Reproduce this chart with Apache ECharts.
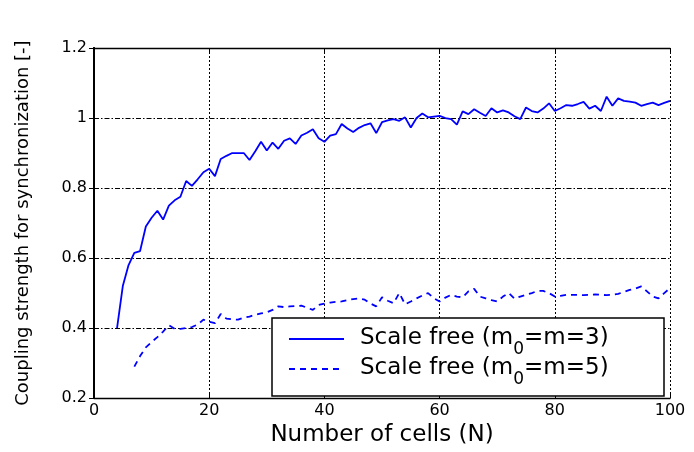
<!DOCTYPE html>
<html>
<head>
<meta charset="utf-8">
<script src="https://cdn.jsdelivr.net/npm/echarts@6/dist/echarts.min.js"></script>
<style>html,body{margin:0;padding:0;background:#fff;}#c{width:694px;height:452px;}</style>
</head>
<body>
<div id="c"></div>
<script>
// Scale free (m0=m=3): N starts at 4
const solidStartN = 4;
const solidValues = [
  0.40, 0.52, 0.58, 0.615, 0.62, 0.69, 0.715, 0.735, 0.71, 0.75,
  0.765, 0.775, 0.82, 0.806, 0.825, 0.845, 0.855, 0.834, 0.883, 0.892,
  0.90, 0.90, 0.90, 0.88, 0.905, 0.932, 0.907, 0.93, 0.912, 0.935,
  0.942, 0.926, 0.95, 0.958, 0.968, 0.942, 0.932, 0.95, 0.954, 0.983,
  0.97, 0.96, 0.972, 0.98, 0.985, 0.957, 0.988, 0.993, 0.997, 0.992,
  1.002, 0.973, 1.0, 1.013, 1.002, 1.004, 1.006, 1.0, 0.997, 0.981,
  1.019, 1.011, 1.025, 1.015, 1.006, 1.028, 1.016, 1.022, 1.016, 1.005,
  0.997, 1.03, 1.02, 1.016, 1.027, 1.042, 1.02, 1.028, 1.037, 1.035,
  1.04, 1.046, 1.027, 1.035, 1.02, 1.061, 1.035, 1.056, 1.049, 1.047,
  1.044, 1.035, 1.04, 1.044, 1.037, 1.043, 1.049
];
// Scale free (m0=m=5): N starts at 7
const dashedStartN = 7;
const dashedValues = [
  0.29, 0.32, 0.345, 0.36, 0.374, 0.39, 0.408, 0.398, 0.398, 0.40,
  0.403, 0.41, 0.424, 0.418, 0.414, 0.44, 0.427, 0.425, 0.424, 0.43,
  0.433, 0.438, 0.442, 0.445, 0.452, 0.462, 0.46, 0.462, 0.463, 0.464,
  0.458, 0.452, 0.466, 0.47, 0.473, 0.475, 0.476, 0.48, 0.483, 0.485,
  0.481, 0.47, 0.462, 0.488, 0.478, 0.471, 0.5, 0.468, 0.476, 0.485,
  0.493, 0.5, 0.485, 0.476, 0.487, 0.495, 0.49, 0.488, 0.505, 0.512,
  0.49, 0.485, 0.48, 0.476, 0.49, 0.5, 0.484, 0.49, 0.495, 0.5,
  0.506, 0.506, 0.5, 0.49, 0.492, 0.495, 0.495, 0.495, 0.494, 0.495,
  0.496, 0.495, 0.494, 0.495, 0.498, 0.503, 0.509, 0.513, 0.519, 0.505,
  0.49, 0.485, 0.5, 0.514
];
const seriesNames = ['Scale free (m0=m=3)', 'Scale free (m0=m=5)'];
const legendRich = {
  'Scale free (m0=m=3)': '{p|}{a|Scale free (m}{s|0}{a|=m=3)}',
  'Scale free (m0=m=5)': '{p|}{a|Scale free (m}{s|0}{a|=m=5)}'
};
const xTicks = {min: 0, max: 100, interval: 20};
const yTicks = {min: 0.2, max: 1.2, interval: 0.2};

const solidData = solidValues.map((v, i) => [solidStartN + i, v]);
const dashedData = dashedValues.map((v, i) => [dashedStartN + i, v]);

const font = 'DejaVu Sans, Liberation Sans, Arial, sans-serif';
const chart = echarts.init(document.getElementById('c'), null, {renderer: 'canvas'});
const hLine = {show: true, lineStyle: {color: '#000', width: 1.4}};
const vLine = {show: true, lineStyle: {color: '#000', width: 2}};
chart.setOption({
  animation: false,
  backgroundColor: '#fff',
  grid: {left: 94, right: 24, top: 48, bottom: 52},
  xAxis: [{
    type: 'value', min: xTicks.min, max: xTicks.max, interval: xTicks.interval,
    position: 'bottom',
    axisLine: hLine,
    axisTick: {show: true, inside: true, length: 5, lineStyle: {color: '#000'}},
    axisLabel: {color: '#000', fontSize: 16, fontFamily: font, margin: 5},
    splitLine: {show: true, lineStyle: {color: '#000', type: [2, 2], width: 1}},
    name: 'Number of cells (N)', nameLocation: 'middle', nameGap: 24,
    nameTextStyle: {color: '#000', fontSize: 23, fontFamily: font}
  }, {
    type: 'value', min: xTicks.min, max: xTicks.max, interval: xTicks.interval,
    position: 'top',
    axisLine: hLine,
    axisTick: {show: true, inside: true, length: 5, lineStyle: {color: '#000'}},
    axisLabel: {show: false}, splitLine: {show: false}
  }],
  yAxis: [{
    type: 'value', min: yTicks.min, max: yTicks.max, interval: yTicks.interval,
    position: 'left',
    axisLine: vLine,
    axisTick: {show: true, inside: true, length: 5, lineStyle: {color: '#000'}},
    axisLabel: {color: '#000', fontSize: 16, fontFamily: font, margin: 7},
    splitLine: {show: true, lineStyle: {color: '#000', type: [5, 2, 1.5, 2], width: 1}},
    name: 'Coupling strength for synchronization [-]', nameLocation: 'middle', nameGap: 62,
    nameTextStyle: {color: '#000', fontSize: 18, fontFamily: font}
  }, {
    type: 'value', min: yTicks.min, max: yTicks.max, interval: yTicks.interval,
    position: 'right',
    axisLine: vLine,
    axisTick: {show: true, inside: true, length: 5, lineStyle: {color: '#000'}},
    axisLabel: {show: false}, splitLine: {show: false}
  }],
  graphic: [{
    type: 'rect', z: 3, silent: true,
    shape: {x: 272, y: 318, width: 392, height: 78},
    style: {fill: '#fff', stroke: '#000', lineWidth: 1.5}
  }],
  legend: {
    data: seriesNames,
    orient: 'vertical',
    left: 288, top: 327, padding: 0,
    itemWidth: 55, itemHeight: 14, itemGap: -1,
    itemStyle: {opacity: 0},
    z: 5,
    formatter: name => legendRich[name],
    textStyle: {
      color: '#000', fontFamily: font, fontSize: 23,
      rich: {
        p: {width: 11},
        a: {fontSize: 23, fontFamily: font, color: '#000', lineHeight: 24, verticalAlign: 'top'},
        s: {fontSize: 17, fontFamily: font, color: '#000', lineHeight: 17, verticalAlign: 'top', padding: [14, 0, 0, 0]}
      }
    }
  },
  series: [{
    name: seriesNames[0], type: 'line', data: solidData, symbol: 'none', z: 2,
    lineStyle: {color: '#0000ff', width: 1.8}, itemStyle: {color: '#0000ff'}
  }, {
    name: seriesNames[1], type: 'line', data: dashedData, symbol: 'none', z: 2,
    lineStyle: {color: '#0000ff', width: 1.8, type: [6, 5]}, itemStyle: {color: '#0000ff'}
  }]
});
</script>
</body>
</html>
